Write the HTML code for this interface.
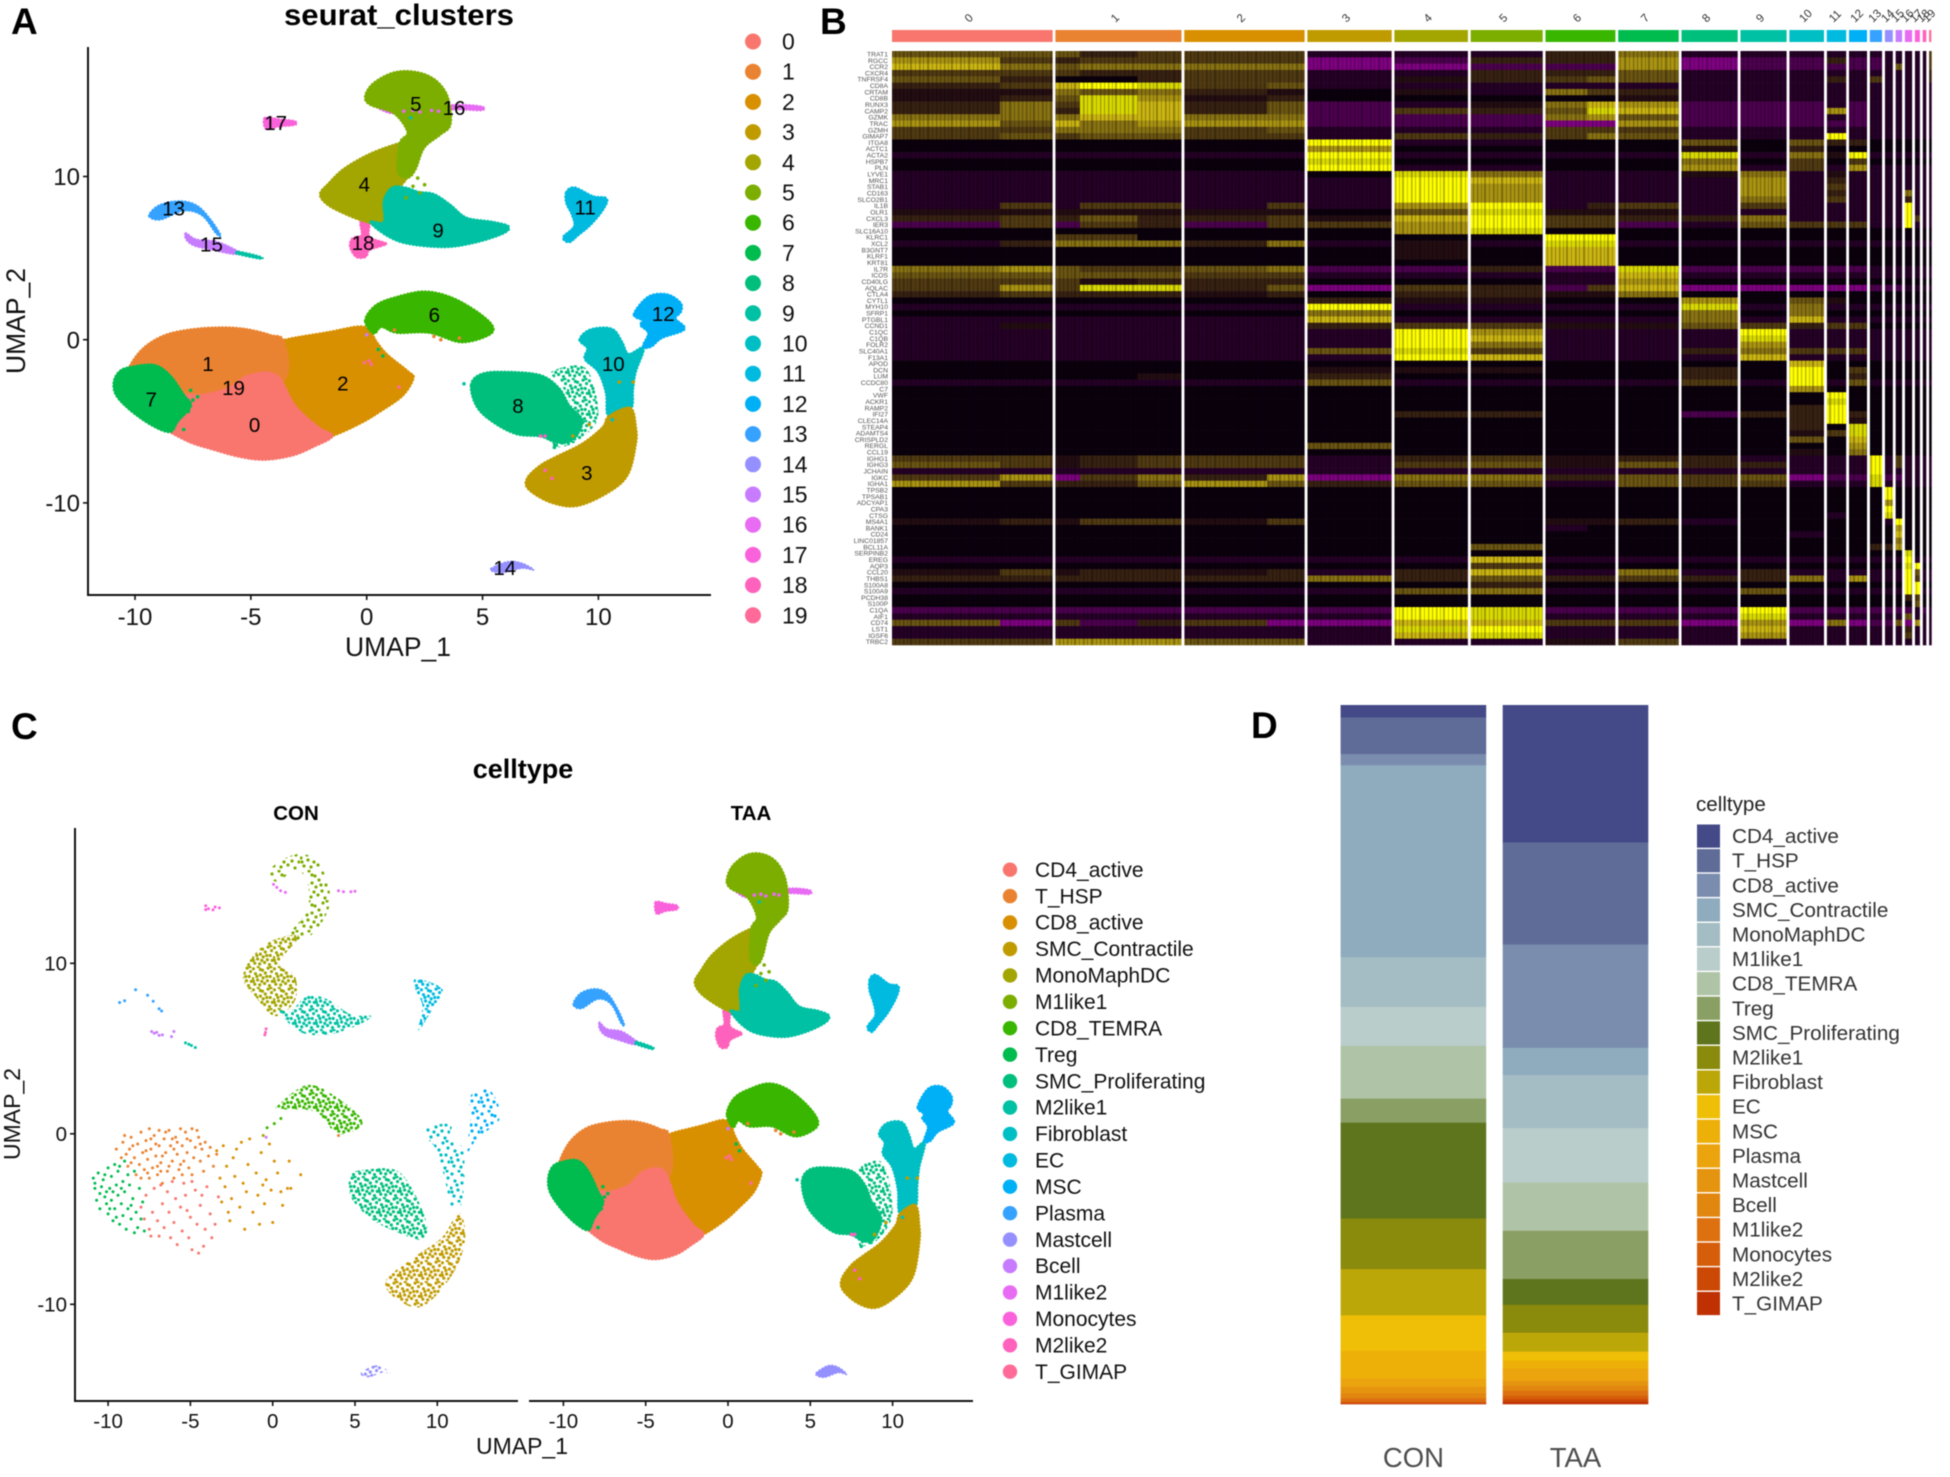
<!DOCTYPE html>
<html lang="en">
<head>
<meta charset="utf-8">
<title>Single-cell UMAP figure</title>
<style>
html,body{margin:0;padding:0;background:#fff}
svg{display:block;filter:blur(0.6px)}
text{font-family:"Liberation Sans",sans-serif}
</style>
</head>
<body>
<svg id="fig" xmlns="http://www.w3.org/2000/svg" width="1950" height="1477" viewBox="0 0 1950 1477">
<defs id="defs"></defs>
<rect x="0" y="0" width="1950" height="1477" fill="#fff"></rect>

<text x="11" y="34" font-size="37" font-weight="700">A</text>
<text x="820" y="34" font-size="37" font-weight="700">B</text>
<text x="11" y="739" font-size="37" font-weight="700">C</text>
<text x="1251" y="738" font-size="37" font-weight="700">D</text>

<text x="399" y="25" font-size="29.5" font-weight="700" text-anchor="middle" textLength="230" lengthAdjust="spacingAndGlyphs">seurat_clusters</text>
<text x="398" y="656" font-size="26.5" text-anchor="middle" fill="#111">UMAP_1</text>
<text transform="translate(25,321) rotate(-90)" font-size="26.5" text-anchor="middle" fill="#111">UMAP_2</text>

<text x="523" y="778" font-size="27" font-weight="700" text-anchor="middle">celltype</text>
<text x="296" y="820" font-size="20.5" font-weight="700" text-anchor="middle">CON</text>
<text x="751" y="820" font-size="20.5" font-weight="700" text-anchor="middle">TAA</text>
<text x="522" y="1454" font-size="23" text-anchor="middle" fill="#111">UMAP_1</text>
<text transform="translate(20,1114) rotate(-90)" font-size="23" text-anchor="middle" fill="#111">UMAP_2</text>

<text x="1696" y="811" font-size="20.6" fill="#222">celltype</text>

<g id="panelA"></g>
<g id="panelB"></g>
<g id="panelC"></g>
<g id="panelD"></g>
</svg>

<script>
/* ---------- shared categories ---------- */
const clusterIds = ["0","1","2","3","4","5","6","7","8","9","10","11","12","13","14","15","16","17","18","19"];
const clusterColors = ["#F8766D","#EA8331","#D89000","#C09B00","#A3A500","#7CAE00","#39B600","#00BB4E","#00BF7D","#00C1A3","#00BFC4","#00BAE0","#00B0F6","#35A2FF","#9590FF","#C77CFF","#E76BF3","#FA62DB","#FF62BC","#FF6A98"];
const cellTypes = ["CD4_active","T_HSP","CD8_active","SMC_Contractile","MonoMaphDC","M1like1","CD8_TEMRA","Treg","SMC_Proliferating","M2like1","Fibroblast","EC","MSC","Plasma","Mastcell","Bcell","M1like2","Monocytes","M2like2","T_GIMAP"];
const xTickValues = [-10,-5,0,5,10];
const yTickValues = [-10,0,10];

/* ---------- UMAP cluster outlines in UMAP coordinates, full cell set ---------- */
const outline0 = [[-9,-3.7],[-7.9,-3.4],[-7.1,-3.4],[-6,-3],[-5.07,-2.2],[-3.9,-2.2],[-3.1,-4.06],[-2.1,-5.37],[-1.5,-5.9],[-2.3,-6.54],[-3.2,-7.07],[-4.4,-7.33],[-5.5,-7.15],[-6.7,-6.68],[-7.6,-6.28],[-8.5,-5.63],[-9.1,-5.1]];
const outline1 = [[-10.2,-1.6],[-9.6,-.5],[-8.7,.26],[-7.6,.6],[-6.2,.73],[-5.1,.6],[-4.15,.26],[-3.6,-.1],[-3.5,-2.3],[-5,-3.5],[-7,-4.5],[-9.5,-4],[-10.4,-2.6]];
const outline2 = [[-5,-.5],[-3.6,-.05],[-3,.13],[-1.64,.45],[-.27,.79],[.18,.4],[.41,-.13],[.87,-.92],[1.78,-1.96],[2,-2.36],[1.55,-3.4],[.64,-4.32],[-.27,-5.1],[-1.53,-5.9],[-2.5,-6.2],[-4,-5]];
const outline3 = [[11.37,-4.2],[11.6,-5.37],[11.6,-6.4],[11.26,-8.25],[10.46,-9.3],[9.1,-10.16],[7.95,-9.95],[7,-9.16],[6.94,-8.5],[7.5,-7.72],[8.17,-7.2],[9.3,-6.4],[10.2,-5.37],[10.46,-4.7]];
const outline4 = [[1.9,12.17],[1.44,12.04],[.18,11.39],[-.96,10.47],[-1.64,9.55],[-2,8.9],[-1.64,8.25],[-.73,7.6],[.07,7.2],[.75,6.94],[.98,7.72],[1.2,9.03],[1.78,10.1]];
const outline5 = [[-.05,14.9],[.3,15.7],[1.2,16.36],[2.2,16.36],[3,15.84],[3.5,14.8],[3.6,13.2],[3.15,12.56],[2.47,11.78],[2.1,10.47],[1.78,9.95],[1.37,10.3],[1.44,12.04],[1.78,12.7],[1.2,13.87],[.18,14.4]];
const outline6 = [[-.05,1.18],[.41,2.1],[1.3,2.6],[2.47,2.93],[3.6,2.6],[4.75,1.7],[5.43,.8],[5.2,.26],[4.06,-.13],[2.7,.45],[1.3,.45],[.64,.8],[.3,.4]];
const outline7 = [[-10.2,-1.7],[-9.18,-1.57],[-8.5,-2.2],[-7.9,-3.4],[-7.6,-4.06],[-8.15,-4.97],[-8.5,-5.63],[-9.3,-5.2],[-10.2,-4.3],[-10.8,-3.4],[-10.9,-2.6],[-10.66,-1.96]];
const outline8 = [[4.52,-2.75],[5,-2.1],[6.1,-2],[7.5,-2.2],[8.3,-3],[8.74,-4.06],[9.3,-5],[8.86,-6.15],[8.2,-6.28],[7.5,-5.9],[6.46,-5.76],[5.43,-5],[4.75,-4.06]];
const outline9 = [[.18,7.2],[.87,6.4],[1.78,5.9],[3.4,5.7],[4.75,6],[5.9,6.54],[6.1,6.94],[5.43,7.2],[4.3,7.46],[3.6,8.25],[2.9,8.9],[2.24,9.03],[1.67,9.3],[1.1,9.3],[.75,8.5],[.75,7.2]];
const outline10 = [[9.2,0],[9.66,.6],[10.57,.65],[11,-.13],[11.3,-.9],[11.94,-.52],[11.6,-1.96],[11.48,-3],[11.37,-4.3],[10.46,-4.7],[10.34,-3.27],[10,-1.96],[9.43,-1.18],[9.54,-.52]];
const outline11 = [[8.63,9.03],[8.97,9.3],[9.76,8.77],[10.34,8.64],[10.2,8],[9.66,7.07],[9.1,6.4],[8.74,6],[8.5,6.28],[8.97,6.94],[8.86,7.7],[8.63,8.38]];
const outline12 = [[11.55,1.57],[12.17,2.62],[12.97,2.75],[13.54,2.23],[13.54,1.7],[13.3,1.3],[13.7,.65],[12.74,.13],[12.28,-.4],[11.94,-.4],[12.17,.4],[11.83,.9],[11.94,1.18]];
const outline13 = [[-9.4,7.6],[-8.95,8.25],[-8.05,8.5],[-7.3,8.2],[-6.7,7.3],[-6.3,6.4],[-6.5,6.5],[-7.1,7.6],[-7.9,7.9],[-8.9,7.35]];
const outline14 = [[5.39,-14],[6.1,-13.6],[6.7,-13.7],[7.2,-14.1],[6.7,-14],[5.9,-14.27],[5.45,-14.2]];
const outline15 = [[-7.8,6.54],[-7.35,6.15],[-6.44,6],[-5.5,5.37],[-5.75,5.24],[-6.67,5.5],[-7.45,5.76],[-7.8,6.15]];
const outline16 = [[.07,14.6],[.6,14.1],[1.2,13.85],[2.4,13.95],[3.8,14.1],[4.95,14.05],[4.95,14.3],[3.8,14.4],[2.4,14.15],[1.2,14.1],[.5,14.45]];
const outline17 = [[-4.4,13.6],[-3.7,13.5],[-3.1,13.4],[-3.1,13.15],[-3.8,13.05],[-4.35,12.9]];
const outline18 = [[-.25,7.2],[.1,7.2],[.1,6.3],[.8,5.9],[.7,5.8],[.1,5.5],[-.05,5.1],[-.45,5.1],[-.7,5.7],[-.6,6.2],[-.2,6.4]];
const outlineTail = [[-5.5,5.4],[-4.6,5.1],[-4.6,4.95],[-5.6,5.25]];
const outline8Sparse = [[7.95,-2],[9.1,-1.57],[9.66,-2.2],[10,-4.3],[9.77,-5.37],[8.86,-6.4],[7.95,-6.5],[8.63,-5.37],[8.86,-4.3],[8.4,-2.75]];
const fullOutlines = [outline0,outline1,outline2,outline3,outline4,outline5,outline6,outline7,outline8,outline9,outline10,outline11,outline12,outline13,outline14,outline15,outline16,outline17,outline18];
const fullDrawOrder = [2,1,0,7,6,8,10,3,12,11,18,4,9,16,5,13,15,17,14];
const thinClusters = [13,14,15,16,17];

/* ---------- cluster label positions, panel A ---------- */
const labelPositions = [[-4.84,-5.24],[-6.85,-1.5],[-1.03,-2.67],[9.5,-8.17],[-.1,9.5],[2.12,14.45],[2.92,1.5],[-9.3,-3.66],[6.53,-4.06],[3.08,6.68],[10.64,-1.5],[9.43,8.1],[12.8,1.57],[-8.33,8.04],[5.96,-14],[-6.7,5.84],[3.77,14.2],[-3.93,13.27],[-.16,5.94],[-5.75,-2.96]];
/* stray cells: x, y, cluster */
const strayCells = [[-8,-3.9,7],[-7.7,-4.4,7],[-8.1,-4.7,7],[-7.5,-3.7,7],[-8.3,-5.1,7],[-7.9,-5.5,7],[-7.3,-3.5,7],[-7.6,-3.1,7],[2.2,9.9,5],[2.5,9.5,5],[2,9.4,5],[2.3,9,5],[1.7,8.7,5],[2.9,.2,1],[3.2,0,1],[4,.1,1],[1.2,.6,1],[0,.3,15],[.5,-.6,7],[.7,-1,7],[7.7,-8,18],[8,-8.5,18],[7.5,-5.9,18],[7.7,-5.9,18],[4.2,-2.7,9],[10.9,-2.6,3],[11.5,-2.6,3],[10.6,-4.9,10],[9.6,-5.2,3],[8.9,-5.9,3],[8.1,-6.6,8],[-.7,-.6,2],[.1,-1.3,19],[-.1,-1.4,19],[.2,-1.5,19],[1.4,-2.9,19],[1.6,14,16],[2,14.05,16],[2.3,13.95,16],[2.8,14.05,16],[3.1,14,16],[1.9,13.6,9]];

/* ---------- CON facet: outlines of the sparse-dot clusters ---------- */
const conOutline3 = [[11.3,-4.6],[11.7,-6.07],[11,-8.13],[9.1,-10.13],[7.4,-9.6],[6.9,-8.57],[8.6,-7.24],[10.3,-6.07]];
const conOutline4 = [[1.6,11.6],[-.1,11.3],[-1.3,10.3],[-1.8,9.1],[-1.07,8.07],[.15,6.9],[1.35,7.8],[1.35,9.25],[.4,10]];
const conOutline5 = [[-.1,15.6],[1.45,16.4],[2.8,15.9],[3.5,13.7],[2.6,11.9],[1.35,11.2],[1,11.7],[2.1,13.1],[2.1,14.8],[1.35,15.5],[.4,14.8],[-.1,15]];
const conOutline6 = [[.4,1.74],[2.1,2.86],[3.8,2.2],[5.47,.7],[4,-.03],[2.57,1.3],[.4,1.44]];
const conOutline8 = [[4.75,-2.4],[5.7,-2.1],[7.4,-2.1],[8.4,-3.1],[9.35,-5.2],[9.1,-6.2],[7.65,-5.8],[6,-5],[4.75,-3.7]];
const conOutline9 = [[.4,7.2],[1.6,6],[3.3,5.8],[5,6.3],[6,6.9],[4.75,7],[3.3,7.9],[2.1,8.07],[1.1,7.2]];
const conOutline10 = [[9.35,.4],[10.8,.56],[10.8,-.18],[11.6,-1.06],[11.5,-4],[10.8,-4.3],[10.56,-3.1],[10,-1.06],[9.35,-.18]];
const conOutline11 = [[8.7,9.1],[10.3,8.5],[9.8,7.48],[8.86,6.07],[9.1,7.5],[8.7,8.4]];
const conOutline12 = [[12,2.18],[13,2.68],[13.7,1.74],[13.7,.7],[12.5,-.18],[11.8,-1.06],[12,.7]];
const conRegions = [conOutline3,conOutline4,conOutline5,conOutline6,conOutline8,conOutline9,conOutline10,conOutline11,conOutline12,outline14];
const conRegionClusters = [3,4,5,6,8,9,10,11,12,14];
const conRegionDense = [1,1,0,1,1,1,0,1,0,1];

/* ---------- CON facet: individually read cells ---------- */
const conCells1 = [[-9.5,-.9],[-9.2,-1.4],[-9.1,-.5],[-8.8,-1.9],[-8.7,-.9],[-8.6,-.2],[-8.4,-1.4],[-8.3,-2.4],[-8.2,-.6],[-8.1,-1.8],[-8,.1],[-7.9,-1.1],[-7.8,-2.1],[-7.7,-.4],[-7.6,-1.5],[-7.5,.3],[-7.5,-2.6],[-7.4,-.9],[-7.3,-2],[-7.2,-.1],[-7.1,-1.3],[-7,-2.4],[-6.9,.2],[-6.9,-.7],[-6.8,-1.7],[-6.7,-2.9],[-6.6,-.3],[-6.5,-1.1],[-6.4,-2.2],[-6.3,.2],[-6.2,-.7],[-6.1,-1.6],[-6,-2.6],[-5.9,-.2],[-5.8,-1.2],[-5.7,-2.1],[-5.6,.3],[-5.5,-.7],[-5.4,-1.6],[-5.3,.1],[-5.2,-1.1],[-5.1,-2],[-5,-.4],[-4.9,.3],[-4.8,-1.4],[-4.7,-.8],[-4.6,.2],[-4.5,-.2],[-4.4,-1.6],[-4.3,-.9],[-4.2,-2.2],[-4.1,-.5],[-3.9,-1.3],[-3.8,-.8],[-3.6,-1.9],[-3.4,-1.2],[-8.9,-1.2],[-8.5,-.7],[-8,-2.6],[-7.7,-1],[-7.4,-.3],[-7.1,-.6],[-6.7,-1.3],[-6.3,-1.9],[-6,-.9],[-5.6,-1.8],[-5.2,-.3],[-4.9,-2.4],[-4.4,-.6],[-7.6,-2.3],[-6.8,-2.2],[-6.1,-.3],[-5.5,-2.4],[-8.6,-1.7],[-9,-.1],[-6.5,.1],[-7,-1.9],[-5.8,-.5]];
const conCells0 = [[-8,-4.3],[-7.8,-5],[-7.7,-3.6],[-7.5,-5.6],[-7.3,-4.6],[-7.2,-3.2],[-7,-5.1],[-6.9,-6],[-6.7,-4.1],[-6.6,-5.5],[-6.4,-3.4],[-6.3,-4.6],[-6.2,-6.1],[-6,-5.2],[-5.9,-3.8],[-5.8,-6.5],[-5.6,-4.3],[-5.5,-5.7],[-5.4,-2.9],[-5.3,-3.6],[-5.1,-6.1],[-5,-4.9],[-4.9,-6.8],[-4.7,-3.3],[-4.6,-5.3],[-4.5,-7],[-4.4,-4.2],[-4.2,-6.6],[-4.1,-5.6],[-4,-3.1],[-3.8,-4.7],[-3.7,-6.1],[-3.5,-5.3],[-3.3,-3.7],[-6.8,-3],[-6.1,-2.8],[-5.2,-4.5],[-4.9,-2.8],[-7.4,-6],[-4.3,-3.6]];
const conCells2 = [[-3.4,-1],[-3.2,-2.6],[-3.1,-4],[-3,-.7],[-2.9,-3.1],[-2.8,-1.9],[-2.6,-5.1],[-2.5,-3.8],[-2.4,-1.4],[-2.3,-2.5],[-2.2,-.9],[-2,-4.3],[-1.9,-.5],[-1.8,-2.9],[-1.7,-5.6],[-1.6,-3.4],[-1.5,-1.8],[-1.4,-.3],[-1.2,-4.6],[-1,-2.3],[-.9,-3.6],[-.8,-5.3],[-.7,-1.1],[-.5,-4.1],[-.4,-2.7],[-.2,-.6],[-.1,-3.3],[0,-5.2],[.1,-1.6],[.3,-2.3],[.5,-3.4],[.6,-4.2],[.9,-3.2],[1,-1.6],[1.1,-3.2],[1.7,-2.4],[-.6,-3],[-2.7,-4.6]];
const conCells7 = [[-10.9,-2.6],[-10.8,-3.2],[-10.7,-3.9],[-10.6,-2.3],[-10.5,-4.4],[-10.4,-3.1],[-10.3,-2.7],[-10.2,-3.7],[-10.1,-4.1],[-10,-2],[-10,-4.7],[-9.9,-3.2],[-9.8,-2.5],[-9.8,-3.9],[-9.7,-5.1],[-9.6,-1.8],[-9.6,-4.4],[-9.5,-3],[-9.4,-3.6],[-9.4,-2.2],[-9.3,-5.3],[-9.2,-4.1],[-9.1,-2.8],[-9.1,-4.8],[-9,-1.6],[-9,-3.4],[-8.9,-5.6],[-8.8,-2.4],[-8.8,-4.4],[-8.7,-3],[-8.6,-5],[-8.5,-3.8],[-8.4,-2.2],[-8.3,-4.6],[-8.2,-5.5],[-8.1,-3.2],[-8,-5],[-7.9,-4],[-7.8,-5.7],[-10.5,-3.5],[-10.2,-2.4],[-9.5,-4.9],[-9.9,-4.4],[-9.2,-3.2],[-8.6,-4.2],[-10.8,-2.9],[-10.1,-3.4],[-9.3,-1.9],[-8.4,-5.8],[-9.7,-3.4]];
const conCellsExtra = [[-9.3,7.7,13],[-9,7.8,13],[-8.33,8.45,13],[-7.6,8.13,13],[-7.26,7.77,13],[-6.9,7.33,13],[-6.75,7.2,13],[-7.36,6,15],[-7.2,5.9,15],[-7.05,5.95,15],[-6.9,5.77,15],[-6.7,5.8,15],[-6.15,5.7,15],[-6,6,15],[-5.3,5.33,9],[-5.1,5.25,9],[-4.94,5.18,9],[-4.7,5.06,9],[-.44,5.95,18],[-.4,6.15,18],[-.48,5.8,18],[-4.07,13.37,17],[-3.9,13.2,17],[-3.63,13.13,17],[-3.24,13.25,17],[-4.07,13.15,17],[-3.5,13.3,17],[.05,14.63,16],[.25,14.45,16],[.48,14.25,16],[.77,14.16,16],[4,14.25,16],[4.3,14.2,16],[4.75,14.2,16],[5,14.23,16],[-.34,.35,6],[-.58,-.1,4],[.5,.9,6],[.1,.6,6],[4,-.1,1],[-.4,-.2,15]];

/* ---------- heatmap data ---------- */
const heatBlocks = [[150,73],[34,80,61],[115,52],[117],[102],[100],[58,39],[84],[78],[64],[48],[27],[25],[17],[11],[9],[10],[7],[5],[3]];
const geneNames = ["TRAT1","RGCC","CCR2","CXCR4","TNFRSF4","CD8A","CRTAM","CD8B","RUNX3","CAMP2","GZMK","TRAC","GZMH","GIMAP7","ITGA8","ACTC1","ACTA2","HSPB7","PLN","LYVE1","MRC1","STAB1","CD163","SLCO2B1","IL1B","OLR1","CXCL3","IER3","SLC16A10","KLRC1","XCL2","B3GNT7","KLRF1","KRT81","IL7R","ICOS","CD40LG","AQLAC","CTLA4","CYTL1","MYH10","SFRP1","PTGBL1","CCND1","C1QC","C1QB","FOLR2","SLC40A1","F13A1","APOD","DCN","LUM","CCDC80","C7","VWF","ACKR1","RAMP2","IFI27","CLEC14A","STEAP4","ADAMTS4","CRISPLD2","RERGL","CCL19","IGHG1","IGHG3","JCHAIN","IGKC","IGHA1","TPSB2","TPSAB1","ADCYAP1","CPA3","CTSG","MS4A1","BANK1","CD24","LINC01857","BCL11A","SERPINB2","EREG","AQP3","CCL20","THBS1","S100A8","S100A9","PCDH38","S100P","C1QA","AIF1","CD74","LST1","IGSF6","TRBC2"];
/* one string per gene; a,b,c = below mean, 0 = mean, 1-9 = above mean */
const heatLevels = [
"44 423 33 c c c 22 5 ccccccccccc3",
"63 233 33 a b 2 22 6 abb2bbccccc3",
"75 455 55 a a b bb 6 abbbbbc4ccc3",
"33 322 33 c c 2 22 4 ccccccccccc2",
"42 002 33 c 1 2 34 4 ccc2c3ccccc2",
"23 798 34 c c c cc c cccccccccccc",
"11 545 21 0 1 c 53 2 cccccccccccc",
"12 486 12 0 0 0 00 1 cccccccccccc",
"25 387 24 b c 1 57 6 bbbcbccccccc",
"25 287 24 b 3 2 48 7 bbb6bccccccc",
"55 577 55 b b b 56 4 bbbcbccccccc",
"64 756 66 b b b aa 6 bbbbbccccccc",
"33 555 34 c c c 33 3 cccccccccccc",
"34 344 33 c 3 2 35 4 ccc9cccccccc",
"00 000 00 9 c c 00 0 404220000000",
"00 000 00 6 0 0 00 0 102000000000",
"cc ccc cc 9 c c cc c 8c519ccccccc",
"00 000 00 8 0 0 00 0 503030000000",
"00 000 00 9 c c 00 0 6c3c6ccccccc",
"cc ccc cc 0 8 5 cc c 15c1cccccccc",
"cc ccc cc c 9 7 cc c c6c2cccccccc",
"cc ccc cc c 9 6 cc c c6c3cccccccc",
"cc ccc cc c 9 6 cc c c6c2cccc5ccc",
"cc ccc cc c 9 6 cc c c5c3cccc2ccc",
"c3 c33 c3 c 6 9 c2 3 c3cccccc9ccc",
"11 111 11 0 4 8 11 1 cccccccc9ccc",
"23 242 23 1 7 9 33 2 25cccccc93cc",
"b3 b32 b3 3 6 9 33 b c4333ccc9ccc",
"00 000 00 0 6 8 00 0 000000000000",
"00 330 00 0 0 0 99 0 000000000000",
"c2 555 25 c 1 c 88 c cccccccccccc",
"00 000 00 0 1 0 77 0 000000000000",
"00 000 00 0 1 0 77 0 000000000000",
"00 000 00 0 0 0 77 0 000000000000",
"56 433 45 b b 2 bb 8 bbbbbccccccc",
"44 444 33 c c c cc 7 cccccccccccc",
"33 312 22 0 0 0 cc 6 000000000000",
"36 388 24 a 3 2 b3 7 aaaaabbbcccc",
"23 222 12 0 2 2 11 5 000000000000",
"00 000 00 2 1 1 00 0 604100000000",
"cc ccc cc 9 c c cc c 8c5ccccccccc",
"00 000 00 5 0 0 00 0 505000000000",
"cc ccc cc 7 c c cc c 5c7ccccccccc",
"c1 ccc cc 2 3 3 11 1 432330000000",
"cc ccc cc c 9 6 cc c c9cccccccccc",
"cc ccc cc c 9 7 cc c c8cccccccccc",
"cc ccc cc c 9 5 cc c c6cccccccccc",
"cc ccc cc 4 8 3 cc c 25333ccccccc",
"cc ccc cc c 9 7 cc c c7cccccccccc",
"00 000 00 0 0 0 00 0 007000000000",
"00 000 00 1 1 1 00 0 209030000000",
"00 001 00 2 0 0 00 0 209020000000",
"cc ccc cc 4 c c cc c 3c9c4ccccccc",
"00 000 00 0 0 0 00 0 006000000000",
"00 000 00 0 0 0 00 0 000900000000",
"00 000 00 0 0 0 00 0 000800000000",
"00 000 00 0 0 0 00 0 002900000000",
"00 000 00 0 2 2 00 0 b22920000000",
"00 000 00 0 0 0 00 0 002910000000",
"00 000 00 0 0 0 00 0 002080000000",
"00 000 00 0 0 0 00 0 001380000000",
"00 000 00 0 0 0 00 0 004070000000",
"00 000 00 4 0 0 00 0 000060000000",
"00 000 00 0 0 0 00 0 001050000000",
"33 123 33 c 2 3 11 2 2cccc9c3cccc",
"43 123 33 c 3 4 11 4 22ccc9c3cccc",
"cc ccc cc c c c cc c ccccc9cccccc",
"36 a35 26 a 5 5 22 4 34abb8bbcccc",
"63 224 64 2 4 4 cc 4 33ccc8cccccc",
"00 000 00 0 0 0 00 0 000000900000",
"00 000 00 0 0 0 00 0 000000900000",
"00 000 00 0 0 0 00 0 000000600000",
"00 000 00 0 0 0 00 0 000000900000",
"00 000 00 0 0 0 00 0 000c00800000",
"12 133 13 0 0 0 11 2 c00000c90000",
"00 000 00 0 0 0 c0 0 000000060000",
"00 000 00 0 0 0 00 0 00c000070000",
"00 000 00 0 0 0 00 0 000000050000",
"00 000 00 0 0 4 00 0 000002260000",
"00 000 00 0 0 0 00 0 000000008000",
"cc ccc cc c c 7 cc c cccccccc9ccc",
"00 000 00 0 0 3 00 0 000000008900",
"13 122 12 c 2 7 cc 5 c2cccccc94cc",
"22 222 22 5 2 4 22 3 225c6ccc93cc",
"00 000 00 0 0 2 00 0 000000009900",
"cc ccc cc c 4 5 cc c c4cccccc99cc",
"00 000 00 0 0 0 00 0 000000002300",
"00 000 00 0 0 0 00 0 000000000400",
"bb bbb bb b 9 8 bb b b9bbbbbbbcbc",
"cc ccc cc c 9 8 cc c c8cccccc4ccc",
"4a 3b2 3a a 7 7 33 3 a6a5abb4a6cc",
"cc ccc cc c 8 9 cc c c7cccccc2ccc",
"cc ccc cc c 7 8 cc c c6cccccc3ccc",
"33 666 44 c c c 11 3 cccccccccccc"
];

/* ---------- stacked bar data (percent of cells) ---------- */
const barGroups = ["CON","TAA"];
const conShares = [1.8,5.24,1.58,27.5,7.11,5.6,7.54,3.45,13.72,7.26,6.61,5.1,3.95,1.2,.9,.7,.5,.2,.1,.05];
const taaShares = [19.7,14.6,14.8,3.9,7.6,7.8,6.9,6.9,3.7,4,2.7,1.3,1.1,1.8,.7,.7,.7,.5,.4,.3];
const barColors = ["#434A87","#5F6C98","#7A8DAE","#8FABBE","#A4BCC4","#B9CDCB","#AFC3A6","#8A9F64","#5E751E","#8A8A0C","#BCA708","#EFBE06","#EDB009","#EBA40E","#E59410","#E1860F","#DD710F","#D65D09","#CC4805","#BF3002"];

/* ---------- helpers ---------- */
const NS = "http://www.w3.org/2000/svg";
function mk(tag, parent, attrs, txt){
  const el = document.createElementNS(NS, tag);
  for (const k in attrs) el.setAttribute(k, attrs[k]);
  if (txt !== undefined) el.textContent = txt;
  parent.appendChild(el);
  return el;
}
function smoothPath(pts, sx, sy){
  const p = pts.map(q => [sx(q[0]), sy(q[1])]);
  const n = p.length;
  let d = "M" + p[0][0].toFixed(1) + " " + p[0][1].toFixed(1);
  for (let i = 0; i < n; i++){
    const a = p[(i-1+n)%n], b = p[i], c = p[(i+1)%n], e = p[(i+2)%n];
    const c1x = b[0] + (c[0]-a[0])/6, c1y = b[1] + (c[1]-a[1])/6;
    const c2x = c[0] - (e[0]-b[0])/6, c2y = c[1] - (e[1]-b[1])/6;
    d += "C" + c1x.toFixed(1) + " " + c1y.toFixed(1) + " " + c2x.toFixed(1) + " " + c2y.toFixed(1) + " " + c[0].toFixed(1) + " " + c[1].toFixed(1);
  }
  return d + "Z";
}
const defs = document.getElementById("defs");
const tilePoints = [[2,4],[9,1],[15,6],[23,3],[28,8],[5,11],[12,13],[19,10],[26,15],[1,18],[8,20],[16,17],[22,21],[29,22],[4,26],[11,27],[18,25],[25,28],[14,22],[7,15],[21,15],[12,5],[27,1],[2,22]];
clusterColors.forEach(function(col, i){
  [0,1].forEach(function(dense){
    const size = dense ? 21 : 30;
    const pat = mk("pattern", defs, {id:"dots-"+i+"-"+dense, width:size, height:size, patternUnits:"userSpaceOnUse"});
    tilePoints.forEach(function(t){
      mk("circle", pat, {cx:(t[0]*size/30).toFixed(1), cy:(t[1]*size/30).toFixed(1), r:1.6, fill:col});
    });
  });
});
const stripes = mk("pattern", defs, {id:"heat-stripes", width:41, height:12, patternUnits:"userSpaceOnUse"});
[[1,1.4],[5,.9],[8,2],[13,.8],[17,1.6],[21,1],[25,2.2],[30,.9],[34,1.3],[38,1.1]].forEach(function(s){
  mk("rect", stripes, {x:s[0], y:0, width:s[1], height:12, fill:"#000", "fill-opacity":0.28});
});

function drawBlob(parent, outline, color, sx, sy, thin){
  const d = smoothPath(outline, sx, sy);
  const solid = mk("path", parent, {d:d, fill:color, stroke:color, "stroke-width":thin ? 0.5 : 1.6, "stroke-linejoin":"round"});
  
  
  const rough = mk("path", parent, {d:d, fill:"none", stroke:color, "stroke-width":thin ? 2 : 3.2, "stroke-dasharray":"0.1 3.4", "stroke-linecap":"round"});
  
  
}
function drawDot(parent, x, y, r, color, name){
  const c = mk("circle", parent, {cx:x.toFixed(1), cy:y.toFixed(1), r:r, fill:color});
  
  
}
function drawAxes(parent, x0, x1, yAxisX, yTop, yBottom, sx, sy, fontSize, labelBase, drawY){
  const xl = mk("line", parent, {x1:x0, x2:x1, y1:yBottom, y2:yBottom, stroke:"#111", "stroke-width":2});
  
  
  xTickValues.forEach(function(v){
    const t = mk("line", parent, {x1:sx(v), x2:sx(v), y1:yBottom, y2:yBottom+5, stroke:"#111", "stroke-width":1.6});
    
    
    const l = mk("text", parent, {x:sx(v), y:labelBase, "font-size":fontSize, "text-anchor":"middle", fill:"#111"}, String(v));
    
    
  });
  if (!drawY) return;
  const yl = mk("line", parent, {x1:yAxisX, x2:yAxisX, y1:yTop, y2:yBottom+1, stroke:"#111", "stroke-width":2});
  
  
  yTickValues.forEach(function(v){
    const t = mk("line", parent, {x1:yAxisX-5, x2:yAxisX, y1:sy(v), y2:sy(v), stroke:"#111", "stroke-width":1.6});
    
    
    const l = mk("text", parent, {x:yAxisX-8, y:sy(v)+fontSize*0.36, "font-size":fontSize, "text-anchor":"end", fill:"#111"}, String(v));
    
    
  });
}
function drawFullUmap(parent, sx, sy){
  fullDrawOrder.forEach(function(ci){
    drawBlob(parent, fullOutlines[ci], clusterColors[ci], sx, sy, thinClusters.indexOf(ci) >= 0);
  });
  drawBlob(parent, outlineTail, clusterColors[9], sx, sy, true);
  const sp = mk("path", parent, {d:smoothPath(outline8Sparse, sx, sy), fill:"url(#dots-8-1)"});
  
  
  strayCells.forEach(function(s){
    drawDot(parent, sx(s[0]), sy(s[1]), 1.8, clusterColors[s[2]], 'stray-cell');
  });
}

/* ---------- Panel A ---------- */
const panelA = document.getElementById("panelA");
const xA = function(u){ return 366.7 + 23.17*u; };
const yA = function(v){ return 339.7 - 16.32*v; };
drawFullUmap(panelA, xA, yA);
drawAxes(panelA, 87, 711, 88, 47, 595, xA, yA, 24, 625, true);
labelPositions.forEach(function(p, i){
  const t = mk("text", panelA, {x:xA(p[0]), y:yA(p[1])+7, "font-size":20.5, "text-anchor":"middle", fill:"#000"}, clusterIds[i]);
  
  
});
clusterIds.forEach(function(id, i){
  const y = 41.5 + i*30.2;
  drawDot(panelA, 753, y, 8, clusterColors[i], 'legend-dot');
  const t = mk("text", panelA, {x:782, y:y+8, "font-size":23, fill:"#111"}, id);
  
  
});

/* ---------- Panel B ---------- */
const panelB = document.getElementById("panelB");
const heatLeft = 892, heatGap = 2.8, heatScale = 0.7203, heatTop = 51, rowH = 594 / geneNames.length;
function zValue(ch){
  if (ch === "a") return -1.2;
  if (ch === "b") return -0.7;
  if (ch === "c") return -0.3;
  return (+ch) * 2.5 / 9 - (ch === "0" ? 0.05 : 0);
}
function heatColor(z){
  if (z <= 0){
    const m = Math.round(255 * (-z) / 2.5) + 6;
    return "rgb(" + m + ",0," + (m + 2) + ")";
  }
  const y = Math.min(255, Math.round(255 * Math.pow(z / 2.5, 1.35)));
  const warm = z < 2 ? 22 : 0;
  return "rgb(" + Math.min(255, y + warm) + "," + y + "," + (z < 2 ? 18 : 0) + ")";
}
const blockLayout = [];
(function(){
  let x = heatLeft;
  heatBlocks.forEach(function(blocks){
    const total = blocks.reduce(function(a,b){ return a+b; }, 0);
    blockLayout.push({x:x, w:total*heatScale, blocks:blocks});
    x += total*heatScale + heatGap;
  });
})();
blockLayout.forEach(function(c, i){
  const bar = mk("rect", panelB, {x:c.x.toFixed(1), y:30, width:c.w.toFixed(1), height:12, fill:clusterColors[i]});
  
  
  const cx = c.x + c.w/2;
  const lab = mk("text", panelB, {transform:"translate(" + (cx-3).toFixed(1) + ",23) rotate(-45)", "font-size":11.5, "text-anchor":"start", fill:"#333"}, clusterIds[i]);
  
  
});
const heatCells = mk("g", panelB, {});


heatLevels.forEach(function(line, r){
  const levels = line.replace(/ /g, "");
  const y = heatTop + r*rowH;
  let k = 0;
  blockLayout.forEach(function(c){
    let x = c.x;
    c.blocks.forEach(function(b){
      const w = b*heatScale;
      const cell = mk("rect", heatCells, {x:x.toFixed(1), y:y.toFixed(2), width:(w+.4).toFixed(1), height:(rowH+.3).toFixed(2), fill:heatColor(zValue(levels.charAt(k)||"0"))});
      
      
      x += w; k++;
    });
  });
  const g = mk("text", panelB, {x:888, y:(y+rowH/2+2.3).toFixed(1), "font-size":6.8, "text-anchor":"end", fill:"#555"}, geneNames[r]);
  
  
});
const stripeRect = mk("rect", panelB, {x:heatLeft, y:heatTop, width:1039, height:594, fill:"url(#heat-stripes)"});


blockLayout.forEach(function(c, i){
  if (i === blockLayout.length-1) return;
  const gap = mk("rect", panelB, {x:(c.x+c.w).toFixed(1), y:heatTop, width:heatGap, height:594, fill:"#fff"});
  
  
});

/* ---------- Panel C ---------- */
const panelC = document.getElementById("panelC");
const xCon = function(u){ return 272.7 + 16.46*u; };
const xTaa = function(u){ return 728 + 16.46*u; };
const yC = function(v){ return 1133.8 - 17.05*v; };
conRegions.forEach(function(o, i){
  const ci = conRegionClusters[i];
  const p = mk("path", panelC, {d:smoothPath(o, xCon, yC), fill:"url(#dots-"+ci+"-"+conRegionDense[i]+")"});
  
  
});
conCells2.forEach(function(p){ drawDot(panelC, xCon(p[0]), yC(p[1]), 1.5, clusterColors[2], 'con-cell'); });
conCells0.forEach(function(p){ drawDot(panelC, xCon(p[0]), yC(p[1]), 1.5, clusterColors[0], 'con-cell'); });
conCells1.forEach(function(p){ drawDot(panelC, xCon(p[0]), yC(p[1]), 1.5, clusterColors[1], 'con-cell'); });
conCells7.forEach(function(p){ drawDot(panelC, xCon(p[0]), yC(p[1]), 1.5, clusterColors[7], 'con-cell'); });
conCellsExtra.forEach(function(p){ drawDot(panelC, xCon(p[0]), yC(p[1]), 1.5, clusterColors[p[2]], 'con-cell'); });
drawFullUmap(panelC, xTaa, yC);
drawAxes(panelC, 74, 518, 75, 828, 1401, xCon, yC, 20.5, 1428, true);
drawAxes(panelC, 529, 973, 529, 828, 1401, xTaa, yC, 20.5, 1428, false);
cellTypes.forEach(function(name, i){
  const y = 869.7 + i*26.42;
  drawDot(panelC, 1010, y, 7.2, clusterColors[i], 'legend-dot');
  const t = mk("text", panelC, {x:1035, y:y+7.2, "font-size":21, fill:"#111"}, name);
  
  
});

/* ---------- Panel D ---------- */
const panelD = document.getElementById("panelD");
const barTop = 705, barHeight = 699;
const barLefts = [1340.6, 1502.7];
const barWidth = 145.6;
[conShares, taaShares].forEach(function(shares, g){
  const total = shares.reduce(function(a,b){ return a+b; }, 0);
  let acc = 0;
  shares.forEach(function(v, i){
    const y = barTop + acc/total*barHeight;
    const h = v/total*barHeight;
    const seg = mk("rect", panelD, {x:barLefts[g], y:y.toFixed(2), width:barWidth, height:(h+.3).toFixed(2), fill:barColors[i]});
    
    
    acc += v;
  });
  const lab = mk("text", panelD, {x:barLefts[g]+barWidth/2, y:1467, "font-size":27.5, "text-anchor":"middle", fill:"#4d4d4d"}, barGroups[g]);
  
  
});
cellTypes.forEach(function(name, i){
  const y = 824.5 + i*24.6;
  const sw = mk("rect", panelD, {x:1697, y:y.toFixed(1), width:23, height:23.2, fill:barColors[i]});
  
  
  const t = mk("text", panelD, {x:1732, y:(y+18.6).toFixed(1), "font-size":20.7, fill:"#333"}, name);
  
  
});
</script>
</body>
</html>
